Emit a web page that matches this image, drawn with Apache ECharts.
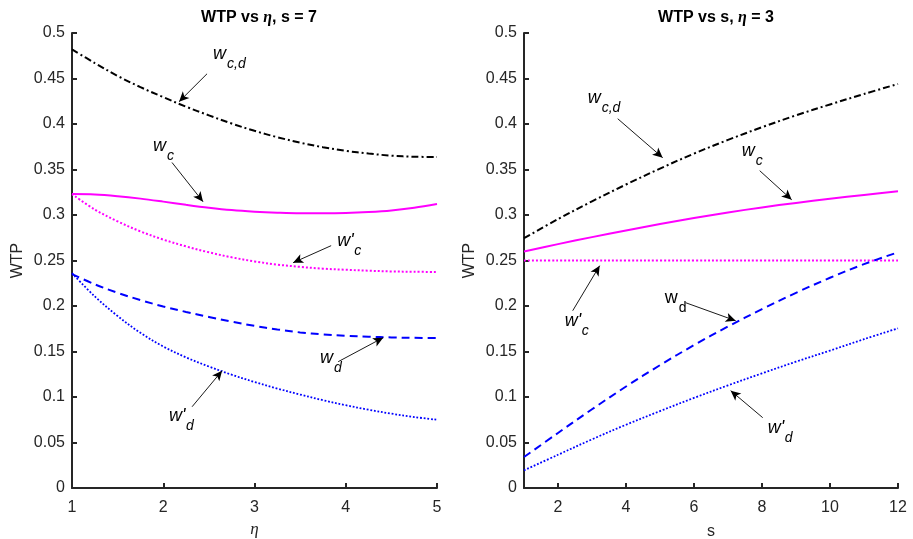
<!DOCTYPE html>
<html>
<head>
<meta charset="utf-8">
<script src="https://cdn.jsdelivr.net/npm/echarts@6/dist/echarts.min.js"></script>
<style>
  html, body { margin: 0; padding: 0; background: #fff; }
  #chart { width: 913px; height: 539px; }
</style>
</head>
<body>
<div id="chart"></div>
<script>
// left panel: WTP vs eta (s = 7)
const etaVals = [1, 1.25, 1.5, 1.75, 2, 2.25, 2.5, 2.75, 3, 3.25, 3.5, 3.75, 4, 4.25, 4.5, 4.75, 5]
const wcdEta = [0.482, 0.467, 0.4528, 0.4405, 0.4295, 0.419, 0.4095, 0.4005, 0.3925, 0.3855, 0.3795, 0.3745, 0.3705, 0.3675, 0.3652, 0.364, 0.3638]
const wcEta = [0.323, 0.3226, 0.3207, 0.318, 0.3147, 0.3112, 0.308, 0.3054, 0.3037, 0.3026, 0.302, 0.302, 0.3023, 0.3033, 0.305, 0.308, 0.312]
const wcPEta = [0.323, 0.306, 0.293, 0.282, 0.273, 0.2655, 0.259, 0.2535, 0.249, 0.2455, 0.243, 0.241, 0.2398, 0.2388, 0.238, 0.2376, 0.2374]
const wdEta = [0.235, 0.2238, 0.2145, 0.2065, 0.1995, 0.1935, 0.188, 0.1828, 0.1782, 0.1742, 0.171, 0.1688, 0.1672, 0.1662, 0.1655, 0.165, 0.1648]
const wdPEta = [0.236, 0.2105, 0.189, 0.1705, 0.1555, 0.1435, 0.1335, 0.1245, 0.1165, 0.1093, 0.1027, 0.0965, 0.091, 0.086, 0.0817, 0.078, 0.075]

// right panel: WTP vs s (eta = 3)
const sVals = [1, 2, 3, 4, 5, 6, 7, 8, 9, 10, 11, 12]
const wcdS = [0.2745, 0.2955, 0.315, 0.3335, 0.351, 0.3675, 0.3825, 0.3965, 0.4095, 0.4215, 0.433, 0.444]
const wcS = [0.260, 0.268, 0.2757, 0.283, 0.29, 0.2967, 0.3028, 0.3083, 0.3133, 0.3178, 0.322, 0.326]
const wcPS = [0.25, 0.25, 0.25, 0.25, 0.25, 0.25, 0.25, 0.25, 0.25, 0.25, 0.25, 0.25]
const wdS = [0.034, 0.0605, 0.0865, 0.1115, 0.135, 0.157, 0.1775, 0.1965, 0.2145, 0.231, 0.246, 0.259]
const wdPS = [0.0194, 0.0365, 0.0535, 0.0695, 0.0845, 0.099, 0.1128, 0.126, 0.1388, 0.151, 0.1635, 0.1755]

const sTicks = [2, 4, 6, 8, 10, 12]

// annotations: label anchor (left of w, baseline) and arrow from -> to, in data units
const notes = [
  { g: 0, main: 'w', sub: 'c,d', at: [2.546, 0.4674], from: [2.480, 0.4552], to: [2.173, 0.4245] },
  { g: 0, main: 'w', sub: 'c', at: [1.888, 0.3663], from: [2.096, 0.3577], to: [2.436, 0.3146] },
  { g: 0, main: "w'", sub: 'c', at: [3.906, 0.2619], from: [3.840, 0.2663], to: [3.423, 0.2476] },
  { g: 0, main: 'w', sub: 'd', at: [3.719, 0.1333], from: [3.917, 0.1388], to: [4.410, 0.1652] },
  { g: 0, main: "w'", sub: 'd', at: [2.064, 0.0696], from: [2.316, 0.0893], to: [2.645, 0.1289] },
  { g: 1, main: 'w', sub: 'c,d', at: [2.874, 0.4190], from: [3.756, 0.4058], to: [5.079, 0.3630] },
  { g: 1, main: 'w', sub: 'c', at: [7.403, 0.3608], from: [7.932, 0.3487], to: [8.873, 0.3168] },
  { g: 1, main: "w'", sub: 'c', at: [2.197, 0.1740], from: [2.432, 0.1948], to: [3.226, 0.2443] },
  { g: 1, main: 'w', sub: 'd', at: [5.138, 0.1992], from: [5.756, 0.2036], to: [7.226, 0.1838], upright: true },
  { g: 1, main: "w'", sub: 'd', at: [8.168, 0.0563], from: [8.021, 0.0773], to: [7.079, 0.1070] }
]

const axisColor = '#262626'
const fontFam = 'Liberation Sans, Arial, sans-serif'

const chart = echarts.init(document.getElementById('chart'), null, { renderer: 'canvas' })

function zip (xs, ys) {
  return xs.map((x, i) => [x, ys[i]])
}

function line (g, xs, ys, color, width, type) {
  return {
    type: 'line',
    xAxisIndex: g,
    yAxisIndex: g,
    data: zip(xs, ys),
    showSymbol: false,
    smooth: 0.35,
    silent: true,
    lineStyle: { color: color, width: width, type: type, cap: 'butt' }
  }
}

function xAxis (g, max, extra) {
  return Object.assign({
    type: 'value',
    gridIndex: g,
    min: 1,
    max: max,
    nameLocation: 'middle',
    nameGap: 36,
    nameTextStyle: { color: axisColor, fontSize: 16, fontFamily: fontFam },
    axisLine: { onZero: false, lineStyle: { color: axisColor, width: 2 } },
    axisTick: { inside: true, length: 5, lineStyle: { color: axisColor, width: 2 } },
    axisLabel: { color: axisColor, fontSize: 16, fontFamily: fontFam, margin: 12 },
    splitLine: { show: false }
  }, extra)
}

function yAxis (g) {
  return {
    type: 'value',
    gridIndex: g,
    min: 0,
    max: 0.5,
    interval: 0.05,
    name: 'WTP',
    nameLocation: 'middle',
    nameGap: 46,
    nameTextStyle: { color: axisColor, fontSize: 16, fontFamily: fontFam },
    axisLine: { show: true, onZero: false, lineStyle: { color: axisColor, width: 2 } },
    axisTick: { show: true, inside: true, length: 5, lineStyle: { color: axisColor, width: 2 } },
    axisLabel: { color: axisColor, fontSize: 16, fontFamily: fontFam, margin: 7 },
    splitLine: { show: false }
  }
}

const series = [
  line(0, etaVals, wcdEta, '#000000', 2, [7, 3, 2, 3]),
  line(0, etaVals, wcEta, '#ff00ff', 2, 'solid'),
  line(0, etaVals, wcPEta, '#ff00ff', 2, [2, 2]),
  line(0, etaVals, wdEta, '#0000ff', 2, [8, 5]),
  line(0, etaVals, wdPEta, '#0000ff', 1.8, [1.8, 1.8]),
  line(1, sVals, wcdS, '#000000', 2, [7, 3, 2, 3]),
  line(1, sVals, wcS, '#ff00ff', 2, 'solid'),
  line(1, sVals, wcPS, '#ff00ff', 2, [2, 2]),
  line(1, sVals, wdS, '#0000ff', 2, [8, 5]),
  line(1, sVals, wdPS, '#0000ff', 1.8, [1.8, 1.8])
]

// arrows drawn as markLines in data coordinates
series.push(...[0, 1].map(g => ({
  type: 'line',
  xAxisIndex: g,
  yAxisIndex: g,
  data: [],
  silent: true,
  markLine: {
    silent: true,
    animation: false,
    symbol: ['none', 'arrow'],
    symbolSize: [7, 10],
    label: { show: false },
    emphasis: { disabled: true },
    lineStyle: { color: '#000', width: 0.9, type: 'solid' },
    data: notes.filter(n => n.g === g).map(n => [{ coord: n.from }, { coord: n.to }])
  }
})))

const titleRich = {
  b: { fontSize: 16, fontWeight: 'bold', color: '#000', fontFamily: fontFam },
  e: { fontSize: 16, fontStyle: 'italic', color: '#000', fontFamily: 'Liberation Serif, serif' }
}

chart.setOption({
  animation: false,
  backgroundColor: '#fff',
  title: [
    { text: '{b|WTP vs }{e|η}{b|, s = 7}', left: 254, top: 5, textAlign: 'center', textStyle: { rich: titleRich } },
    { text: '{b|WTP vs s, }{e|η}{b| = 3}', left: 711, top: 5, textAlign: 'center', textStyle: { rich: titleRich } }
  ],
  grid: [
    { left: 72, top: 33, width: 365, height: 455, outerBoundsMode: 'none' },
    { left: 524, top: 33, width: 374, height: 455, outerBoundsMode: 'none' }
  ],
  xAxis: [
    xAxis(0, 5, {
      interval: 1,
      name: 'η',
      nameGap: 33,
      nameTextStyle: { color: axisColor, fontSize: 17, fontStyle: 'italic', fontFamily: 'Liberation Serif, serif' }
    }),
    xAxis(1, 12, {
      name: 's',
      axisTick: { inside: true, length: 5, customValues: sTicks, lineStyle: { color: axisColor, width: 2 } },
      axisLabel: { color: axisColor, fontSize: 16, fontFamily: fontFam, margin: 12, customValues: sTicks }
    })
  ],
  yAxis: [yAxis(0), yAxis(1)],
  series: series
})

// annotation labels: w with subscript, placed from data coordinates
const graphics = []
notes.forEach(n => {
  const p = chart.convertToPixel({ gridIndex: n.g }, n.at)
  const style = n.upright ? 'normal' : 'italic'
  const mainW = n.main === 'w' ? 14 : 17
  graphics.push({
    type: 'text',
    x: p[0],
    y: p[1],
    silent: true,
    style: { text: n.main, fontSize: 18, fontStyle: style, fontFamily: fontFam, fill: '#000', verticalAlign: 'bottom' }
  })
  graphics.push({
    type: 'text',
    x: p[0] + mainW,
    y: p[1] + 8,
    silent: true,
    style: { text: n.sub, fontSize: 14, fontStyle: style, fontFamily: fontFam, fill: '#000', verticalAlign: 'bottom' }
  })
})
chart.setOption({ graphic: graphics })
</script>
</body>
</html>
